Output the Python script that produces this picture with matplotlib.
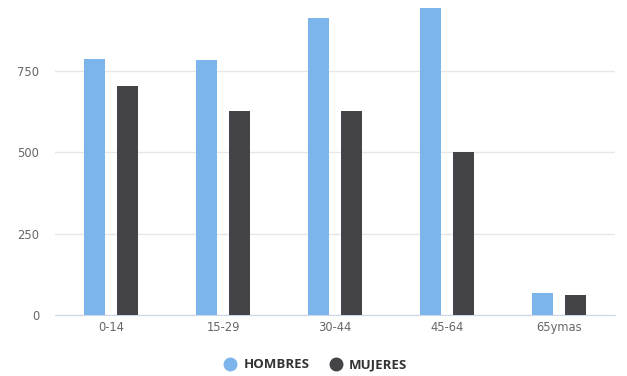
import numpy as np
import matplotlib.pyplot as plt
from matplotlib.lines import Line2D

plt.rcParams['font.family'] = ['DejaVu Sans']

categorias = ['0-14', '15-29', '30-44', '45-64', '65ymas']
hombres = [788, 785, 914, 943, 68]
mujeres = [705, 628, 628, 502, 63]

azul = '#7cb5ec'
gris = '#434348'

fig = plt.figure(figsize=(6.27, 3.76), dpi=100)
ax = fig.add_axes([55 / 627, 60.7 / 376, 560 / 627, 315.3 / 376])

x = np.arange(len(categorias))
ax.bar(x - 0.147, hombres, width=0.18, color=azul, zorder=3)
ax.bar(x + 0.147, mujeres, width=0.18, color=gris, zorder=3)

ax.set_xlim(-0.5, 4.5)
ax.set_ylim(0, 968)
ax.set_yticks([0, 250, 500, 750])
ax.set_xticks(x)
ax.set_xticklabels(categorias)
ax.grid(axis='y', color='#e6e6e6', linewidth=1, zorder=0)
for s in ['top', 'right', 'left']:
    ax.spines[s].set_visible(False)
ax.spines['bottom'].set_color('#ccd6eb')
ax.tick_params(axis='both', length=0, labelsize=8.3, labelcolor='#666666')
ax.tick_params(axis='y', pad=11.5)
ax.tick_params(axis='x', pad=4)

handles = [
    Line2D([], [], marker='o', linestyle='', color=azul, markersize=9),
    Line2D([], [], marker='o', linestyle='', color=gris, markersize=9),
]
fig.legend(handles, ['HOMBRES', 'MUJERES'], loc='center', bbox_to_anchor=(0.502, 0.03),
           ncol=2, frameon=False, handlelength=1.2, handletextpad=0.4, columnspacing=1.37,
           prop={'family': 'Open Sans', 'weight': 'bold', 'size': 9.5},
           labelcolor='#333333')

fig.savefig('out.png', dpi=100)
